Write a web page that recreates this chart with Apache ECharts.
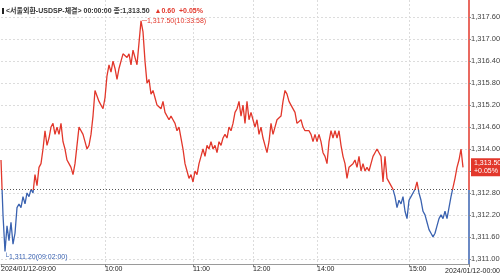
<!DOCTYPE html>
<html><head><meta charset="utf-8">
<script src="https://cdn.jsdelivr.net/npm/echarts@6/dist/echarts.min.js"></script>
<style>html,body{margin:0;padding:0;background:#fff}#c{width:500px;height:275px}</style>
</head><body><div id="c"></div>
<script>
// ---- data ----
const prices = [
1313.7,1312.2,1311.2,1311.9,1311.5,1312.0,1311.4,1311.7,1312.4,1312.5,
1312.4,1312.7,1312.5,1312.8,1312.7,1312.9,1312.8,1313.3,1313.0,1313.5,
1313.6,1314.0,1314.5,1314.1,1314.3,1314.6,1314.7,1314.4,1314.6,1314.4,
1314.7,1314.2,1314.0,1313.7,1313.6,1313.5,1313.3,1313.6,1314.1,1314.6,
1314.6,1314.4,1314.2,1314.0,1314.1,1314.4,1314.9,1315.6,1315.6,1315.3,
1315.2,1315.1,1315.4,1316.0,1316.3,1316.1,1316.4,1316.2,1315.9,1316.2,
1316.4,1316.6,1316.6,1316.5,1316.6,1316.3,1316.7,1316.5,1316.3,1316.9,
1317.5,1317.2,1316.4,1315.8,1315.9,1315.5,1315.6,1315.4,1315.2,1315.2,
1315.1,1315.3,1315.0,1315.0,1314.8,1314.9,1314.8,1314.7,1314.5,1314.6,
1314.3,1314.0,1313.6,1313.4,1313.2,1313.3,1313.1,1313.4,1313.3,1313.6,
1313.8,1314.0,1313.8,1314.1,1314.0,1314.2,1314.0,1314.1,1313.9,1314.2,
1314.1,1314.3,1314.4,1314.3,1314.6,1314.5,1314.7,1315.0,1315.1,1315.3,
1314.9,1315.2,1314.7,1315.3,1314.8,1315.0,1314.8,1314.6,1314.8,1314.4,
1314.6,1314.3,1314.1,1313.9,1314.2,1314.7,1314.4,1314.6,1314.8,1314.8,
1314.9,1315.3,1315.6,1315.5,1315.3,1315.2,1315.2,1315.0,1314.7,1314.7,
1314.8,1314.6,1314.5,1314.5,1314.5,1314.4,1314.2,1314.4,1314.2,1314.4,
1314.2,1313.9,1313.8,1313.6,1314.2,1314.5,1314.3,1314.5,1314.3,1314.5,
1314.1,1313.8,1313.6,1313.2,1313.5,1313.5,1313.6,1313.7,1313.5,1313.8,
1313.4,1313.6,1313.4,1313.5,1313.4,1313.6,1313.8,1313.9,1314.0,1313.9,
1313.8,1313.1,1313.8,1313.2,1313.2,1313.0,1312.9,1312.7,1312.4,1312.6,
1312.5,1312.7,1312.3,1312.1,1312.6,1312.7,1312.8,1312.9,1313.1,1312.8,
1312.6,1312.3,1312.2,1312.0,1311.8,1311.7,1311.6,1311.7,1311.9,1312.1,
1312.2,1312.1,1312.3,1312.1,1312.4,1312.7,1312.7,1313.2,1313.5,1313.7,
1314.0,1313.5
];
const slotCount = 235;                  // number of tick slots on the time axis
const xTickIndex = [0, 52, 96, 126, 158, 204, 234];
const xTickText = ['2024/01/12-09:00','10:00','11:00','12:00','14:00','15:00','2024/01/12-00:00'];
const yTicks = [1311.0,1311.6,1312.2,1312.8,1313.4,1314.0,1314.6,1315.2,1315.8,1316.4,1317.0,1317.6];
const yMin = 1310.86, yMax = 1318.07;
const prevClose = 1312.90;
const lastPrice = 1313.50;
const change = 0.60;
const changePct = 0.05;
const maxTime = '10:33:58';
const minTime = '09:02:00';
const headerName = '<서울외환-USDSP-체결> 00:00:00';

// ---- helpers ----
const RED = '#e2372b', BLUE = '#3a62b0';
const FONT = '"Liberation Sans","Noto Sans CJK KR",sans-serif';
function fmt(v){
  const s = v.toFixed(2).split('.');
  return s[0].replace(/\B(?=(\d{3})+(?!\d))/g, ',') + '.' + s[1];
}
const categories = Array.from({length: slotCount}, (_, i) => i);
const tickSet = new Set(xTickIndex);
const axisFrac = (yMax - prevClose) / (yMax - yMin);
const pMax = Math.max(...prices), pMin = Math.min(...prices);
const lineFrac = (pMax - prevClose) / (pMax - pMin);
const split = (f) => new echarts.graphic.LinearGradient(0, 0, 0, 1, [
  {offset: 0, color: RED}, {offset: f, color: RED}, {offset: f, color: BLUE}, {offset: 1, color: BLUE}]);

const chart = echarts.init(document.getElementById('c'), null, {renderer: 'canvas'});
chart.setOption({
  animation: false,
  textStyle: {fontFamily: FONT},
  title: [{
    left: 0, top: 0, padding: [2, 2],
    text: '{b|}{t|' + headerName + ' 종:' + fmt(lastPrice) + '} {r|▲' + change.toFixed(2) + '  +' + changePct.toFixed(2) + '%}',
    textStyle: {
      fontFamily: FONT,
      rich: {
        b: {backgroundColor: '#222', width: 2, height: 6},
        t: {fontSize: 7, color: '#333', fontFamily: FONT, padding: [0,0,0,2]},
        r: {fontSize: 7, color: RED, fontFamily: FONT}
      }
    }
  }, {
    right: 0, bottom: 0, padding: 0,
    text: xTickText[xTickText.length - 1],
    textStyle: {fontSize: 7, fontWeight: 'normal', color: '#222', fontFamily: FONT}
  }],
  grid: {left: 1, right: 31, top: 0, bottom: 11, outerBoundsMode: 'none', containLabel: false},
  xAxis: {
    type: 'category',
    data: categories,
    boundaryGap: false,
    axisLine: {show: true, lineStyle: {color: '#9a9a9a', width: 1}},
    axisTick: {show: true, length: 3, interval: (i) => tickSet.has(i), lineStyle: {color: '#888'}},
    splitLine: {show: true, interval: (i) => tickSet.has(i) && i !== 0 && i !== slotCount - 1,
      lineStyle: {color: '#dcdcdc', type: [2, 2], width: 1}},
    axisLabel: {
      show: true, interval: (i) => tickSet.has(i) && i !== slotCount - 1,
      formatter: (v, i) => xTickText[xTickIndex.indexOf(i)] || '',
      align: 'left', margin: 2, fontSize: 7, color: '#222', fontFamily: FONT
    }
  },
  yAxis: {
    type: 'value', position: 'right', min: yMin, max: yMax, scale: true,
    axisLine: {show: true, lineStyle: {width: 1.5, color: split(axisFrac)}},
    axisTick: {show: true, length: 2, customValues: yTicks, lineStyle: {color: '#888'}},
    splitLine: {show: true, lineStyle: {color: '#dcdcdc', type: [2, 2], width: 1}},
    axisLabel: {customValues: yTicks, formatter: (v) => fmt(v), margin: 2, fontSize: 7.5, color: '#444', fontFamily: FONT}
  },
  series: [{
    type: 'line', data: prices, symbol: 'none', lineStyle: {width: 1.3, color: split(lineFrac)},
    markLine: {
      silent: true, symbol: 'none',
      data: [
        {yAxis: prevClose, lineStyle: {color: '#555', type: [1, 2], width: 1}, label: {show: false}},
        {yAxis: lastPrice, lineStyle: {color: 'transparent', width: 0}, label: {
          show: true, position: 'end', distance: 2,
          formatter: fmt(lastPrice) + '\n+' + changePct.toFixed(2) + '%',
          color: '#fff', backgroundColor: RED, fontSize: 7, lineHeight: 8, padding: [1, 2, 1, 3],
          fontFamily: FONT, opacity: 1
        }}
      ]
    },
    markPoint: {
      silent: true, symbol: 'circle', symbolSize: 0,
      data: [
        {type: 'max', label: {show: true, position: 'right', distance: 1,
          formatter: (p) => '─' + fmt(p.value) + '(' + maxTime + ')', color: RED, fontSize: 7, fontFamily: FONT}},
        {type: 'min', label: {show: true, position: [-1, 2], align: 'left', verticalAlign: 'top',
          formatter: (p) => '└' + fmt(p.value) + '(' + minTime + ')', color: BLUE, fontSize: 7, fontFamily: FONT}}
      ]
    }
  }]
});
</script>
</body></html>
